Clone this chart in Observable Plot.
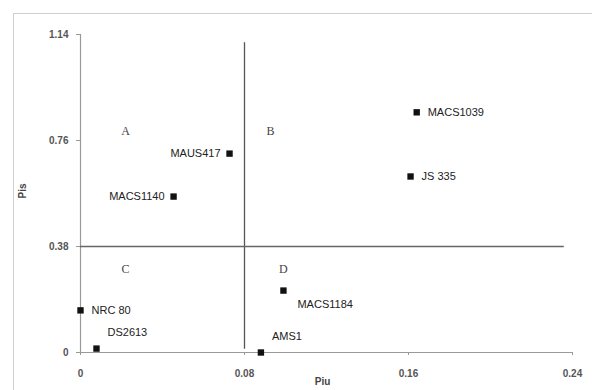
<!DOCTYPE html>
<html><head><meta charset="utf-8">
<script src="https://cdn.jsdelivr.net/npm/d3@7"></script>
<script src="https://cdn.jsdelivr.net/npm/@observablehq/plot@0.6"></script>
<style>
html,body{margin:0;padding:0;background:#fff;}
#wrap{position:relative;width:592px;height:390px;}
#frame{position:absolute;left:13px;top:13px;right:0;bottom:0;border-left:1.5px solid #cfcfcf;border-top:1.5px solid #cfcfcf;pointer-events:none;}
</style></head>
<body><div id="wrap"><div id="frame"></div></div>
<script>
const names = ["MACS1039","JS 335","MAUS417","MACS1140","MACS1184","NRC 80","DS2613","AMS1"];
const piu   = [0.164, 0.161, 0.0727, 0.0454, 0.099, 0.0, 0.0078, 0.088];
const pis   = [0.861, 0.631, 0.713, 0.559, 0.222, 0.151, 0.014, 0.0];
const xTicks = [0, 0.08, 0.16, 0.24];
const yTicks = [0, 0.38, 0.76, 1.14];
const quadNames = ["A","B","C","D"];
const quadX = [0.022, 0.0927, 0.022, 0.099];
const quadY = [0.792, 0.792, 0.298, 0.298];
const cutX = 0.08, cutY = 0.38;

const pts = names.map((n,i)=>({name:n, x:piu[i], y:pis[i]}));
const quads = quadNames.map((q,i)=>({q, x:quadX[i], y:quadY[i]}));
const rightNames = ["MACS1039","JS 335","NRC 80"];
const leftNames = ["MAUS417","MACS1140"];
const aboveNames = ["DS2613","AMS1"];
const belowNames = ["MACS1184"];
const sel = arr => pts.filter(d=>arr.includes(d.name));

const font = "Liberation Sans, Arial, sans-serif";
const chart = Plot.plot({
  width: 592, height: 390,
  marginLeft: 80, marginRight: 20, marginTop: 34, marginBottom: 38,
  style: {fontFamily: font, background: "transparent", overflow: "visible"},
  x: {domain: [0, 0.24], label: null},
  y: {domain: [0, 1.14], label: null},
  marks: [
    Plot.ruleY([0], {x1: 0, x2: 0.24, stroke: "#999", strokeWidth: 1.2}),
    Plot.ruleX([0], {y1: 0, y2: 1.14, stroke: "#999", strokeWidth: 1.2}),
    Plot.axisX({ticks: xTicks, tickFormat: d => String(d), tickSize: 3, stroke: "#999", fill: "#555", fontSize: 10, fontWeight: "bold", tickPadding: 14, label: null}),
    Plot.axisY({ticks: yTicks, tickFormat: d => String(d), tickSize: 4, stroke: "#999", fill: "#555", fontSize: 10, fontWeight: "bold", tickPadding: 8, label: null}),
    Plot.ruleX([cutX], {y1: 0.012, y2: 1.11, stroke: "#555", strokeWidth: 1.3}),
    Plot.ruleY([cutY], {x1: 0, x2: 0.236, stroke: "#666", strokeWidth: 1.6}),
    Plot.dot(pts, {x: "x", y: "y", symbol: "square", r: 3.6, fill: "#111", stroke: null}),
    Plot.text(sel(rightNames), {x: "x", y: "y", text: "name", textAnchor: "start", dx: 11, fontSize: 11, fill: "#222"}),
    Plot.text(sel(leftNames), {x: "x", y: "y", text: "name", textAnchor: "end", dx: -9, fontSize: 11, fill: "#222"}),
    Plot.text(sel(aboveNames), {x: "x", y: "y", text: "name", textAnchor: "start", dx: 11, dy: -16, fontSize: 11, fill: "#222"}),
    Plot.text(sel(belowNames), {x: "x", y: "y", text: "name", textAnchor: "start", dx: 14, dy: 14, fontSize: 11, fill: "#222"}),
    Plot.text(quads, {x: "x", y: "y", text: "q", fontSize: 12, fill: "#444", fontFamily: "Liberation Serif, serif"}),
    Plot.text(["Piu"], {frameAnchor: "bottom", dy: 32, dx: -4, fontSize: 10, fontWeight: "bold", fill: "#444"}),
    Plot.text(["Pis"], {frameAnchor: "left", dx: -58, dy: 5, rotate: -90, fontSize: 10, fontWeight: "bold", fill: "#444"})
  ]
});
chart.style.position = "absolute";
chart.style.left = "0px";
chart.style.top = "0px";
document.getElementById("wrap").appendChild(chart);
</script>
</body></html>
